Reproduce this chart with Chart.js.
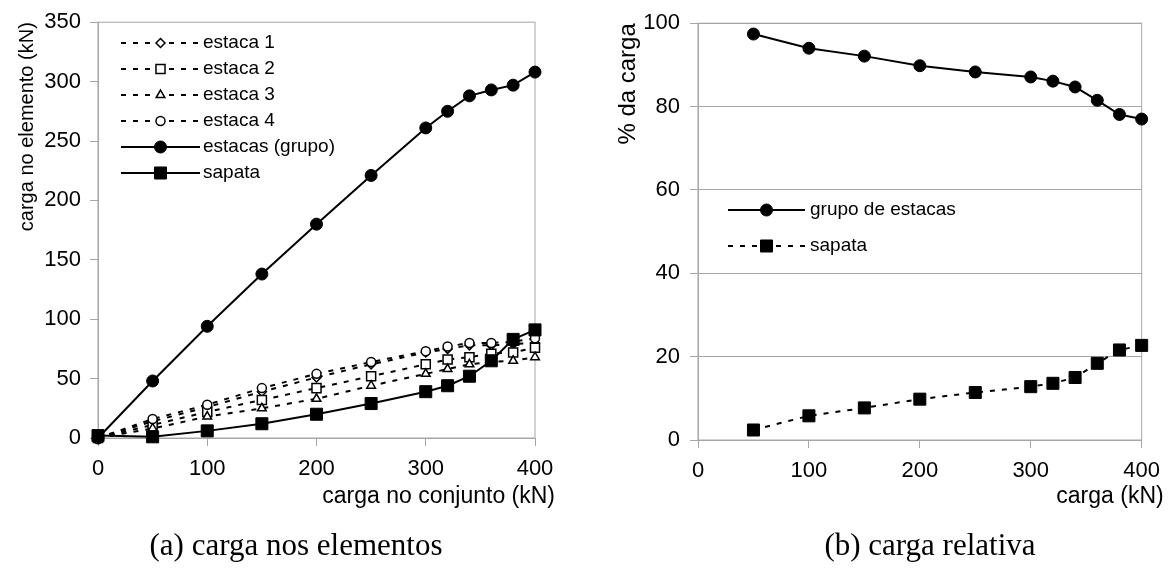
<!DOCTYPE html>
<html>
<head>
<meta charset="utf-8">
<script src="https://cdn.jsdelivr.net/npm/chart.js@4.4.1/dist/chart.umd.min.js"></script>
<style>
  body { margin: 0; background: #fff; }
  #wrap { position: relative; width: 1170px; height: 574px; }
  .box { position: absolute; top: 0; width: 585px; height: 574px; }
  .legenda { position: absolute; top: 527px; line-height: 36px; font-family: 'Liberation Serif', 'Times New Roman', serif; font-size: 31px; color: #000; white-space: nowrap; transform: translateX(-50%); }
</style>
</head>
<body>
<div id="wrap">
  <div class="box" style="left:0"><canvas id="cargaElementos"></canvas></div>
  <div class="box" style="left:585px"><canvas id="cargaRelativa"></canvas></div>
  <div class="legenda" style="left:296px">(a) carga nos elementos</div>
  <div class="legenda" style="left:930px">(b) carga relativa</div>
</div>
<script>
  /* dados (a) - carga nos elementos, kN */
  const carga = [0, 50, 100, 150, 200, 250, 300, 320, 340, 360, 380, 400];
  const estaca1 = [0, 14, 26, 39, 51, 62, 72, 75, 78, 78, 79, 80];
  const estaca2 = [0, 11, 22, 32, 42, 52, 62, 66, 68, 71, 72, 76];
  const estaca3 = [0, 8, 18, 25, 33, 44, 54, 58, 62, 64, 65, 68];
  const estaca4 = [0, 16, 28, 42, 54, 64, 73, 77, 80, 80, 81, 84];
  const estacasGrupo = [0, 48, 94, 138, 180, 221, 261, 275, 288, 293, 297, 308];
  const sapata = [2, 1, 6, 12, 20, 29, 39, 44, 52, 65, 83, 91];

  /* dados (b) - carga relativa, % */
  const cargaRel = [50, 100, 150, 200, 250, 300, 320, 340, 360, 380, 400];
  const grupoPct = [97.4, 94.0, 92.1, 89.8, 88.3, 87.1, 86.1, 84.7, 81.5, 78.1, 77.0];
  const sapataPct = [2.4, 5.8, 7.7, 9.8, 11.4, 12.8, 13.6, 15.0, 18.4, 21.6, 22.7];

  const ticksX = [0, 100, 200, 300, 400];

  const cinza = '#a6a6a6';
  const fonte = "'Liberation Sans', Arial, sans-serif";

  function pares(xs, ys) {
    return xs.map((x, i) => ({ x: x, y: ys[i] }));
  }

  function serie(label, xs, ys, estilo, raio, cheio, tracejado, ordem) {
    return {
      label: label,
      data: pares(xs, ys),
      borderColor: '#000',
      borderWidth: 2,
      borderDash: tracejado ? [5, 7] : [],
      pointStyle: estilo,
      pointRadius: raio,
      pointHoverRadius: raio,
      pointBackgroundColor: cheio ? '#000' : '#fff',
      pointBorderColor: '#000',
      pointBorderWidth: cheio ? 1 : 1.5,
      tension: 0,
      clip: false,
      order: ordem
    };
  }

  // borda cinza em volta da area do grafico
  const moldura = {
    id: 'moldura',
    beforeDatasetsDraw(chart) {
      const a = chart.chartArea;
      const ctx = chart.ctx;
      ctx.save();
      ctx.strokeStyle = cinza;
      ctx.lineWidth = 1;
      ctx.strokeRect(a.left, a.top, a.right - a.left, a.bottom - a.top);
      ctx.restore();
    }
  };

  // titulo do eixo x, um pouco alem da borda direita (como no original)
  const tituloX = {
    id: 'tituloX',
    afterDraw(chart, args, opts) {
      const ctx = chart.ctx;
      ctx.save();
      ctx.fillStyle = '#000';
      ctx.font = opts.tamanho + 'px ' + fonte;
      ctx.textAlign = 'right';
      ctx.textBaseline = 'middle';
      ctx.fillText(opts.texto, chart.chartArea.right + opts.dx, opts.y);
      ctx.restore();
    }
  };

  // legenda com linha + marcador, como no excel
  const legendaLinhas = {
    id: 'legendaLinhas',
    afterDraw(chart, args, opts) {
      const ctx = chart.ctx;
      ctx.save();
      chart.data.datasets.forEach((ds, i) => {
        const y = opts.y + i * opts.passo;
        const xm = opts.x + opts.comprimento / 2;
        ctx.strokeStyle = ds.borderColor;
        ctx.lineWidth = ds.borderWidth;
        ctx.setLineDash(ds.borderDash);
        ctx.beginPath();
        ctx.moveTo(opts.x, y);
        ctx.lineTo(opts.x + opts.comprimento, y);
        ctx.stroke();
        ctx.setLineDash([]);
        ctx.fillStyle = ds.pointBackgroundColor;
        ctx.strokeStyle = ds.pointBorderColor;
        ctx.lineWidth = ds.pointBorderWidth;
        Chart.helpers.drawPoint(ctx, {
          pointStyle: ds.pointStyle,
          radius: ds.pointRadius,
          borderWidth: ds.pointBorderWidth,
          rotation: 0
        }, xm, y);
        ctx.fillStyle = '#000';
        ctx.font = opts.tamanho + 'px ' + fonte;
        ctx.textBaseline = 'middle';
        ctx.textAlign = 'left';
        ctx.fillText(ds.label, opts.x + opts.comprimento + opts.folga, y);
      });
      ctx.restore();
    }
  };

  function eixoX() {
    return {
      type: 'linear',
      min: 0,
      max: 400,
      afterBuildTicks: (s) => { s.ticks = ticksX.map(v => ({ value: v })); },
      afterFit: (s) => { s.height = 80; },
      border: { color: cinza, width: 1 },
      grid: { drawOnChartArea: false, color: cinza, tickLength: 8 },
      ticks: { color: '#000', padding: 10, maxRotation: 0, font: { family: fonte, size: 22 } }
    };
  }

  /* Grafico (a) */

  const dataElementos = {
    datasets: [
      serie('estaca 1', carga, estaca1, 'rectRot', 4.5, false, true, 6),
      serie('estaca 2', carga, estaca2, 'rect', 6.4, false, true, 5),
      serie('estaca 3', carga, estaca3, 'triangle', 5, false, true, 4),
      serie('estaca 4', carga, estaca4, 'circle', 4.5, false, true, 3),
      serie('estacas (grupo)', carga, estacasGrupo, 'circle', 6, true, false, 2),
      serie('sapata', carga, sapata, 'rect', 8.5, true, false, 1)
    ]
  };

  const configElementos = {
    type: 'line',
    data: dataElementos,
    plugins: [moldura, legendaLinhas, tituloX],
    options: {
      responsive: true,
      maintainAspectRatio: false,
      animation: false,
      layout: { padding: { top: 18, right: 50, bottom: 56, left: 0 } },
      plugins: {
        legend: { display: false },
        tooltip: { enabled: false },
        legendaLinhas: { x: 121, y: 43, passo: 26, comprimento: 79, folga: 3, tamanho: 19 },
        tituloX: { texto: 'carga no conjunto (kN)', dx: 20, y: 497, tamanho: 23 }
      },
      scales: {
        x: eixoX(),
        y: {
          type: 'linear',
          min: 0,
          max: 350,
          ticks: { stepSize: 50, color: '#000', padding: 9, font: { family: fonte, size: 22 } },
          afterFit: (s) => { s.width = 98; },
          border: { color: cinza, width: 1 },
          grid: { drawOnChartArea: false, color: cinza, tickLength: 8 },
          title: {
            display: true, text: 'carga no elemento (kN)', align: 'end', color: '#000',
            font: { family: fonte, size: 20 }, padding: { top: 15, bottom: 0 }
          }
        }
      }
    }
  };

  const chartElementos = new Chart(
    document.getElementById('cargaElementos'),
    configElementos
  );

  /* Grafico (b) */

  const dataRelativa = {
    datasets: [
      serie('grupo de estacas', cargaRel, grupoPct, 'circle', 6, true, false, 2),
      serie('sapata', cargaRel, sapataPct, 'rect', 8.5, true, true, 1)
    ]
  };

  const configRelativa = {
    type: 'line',
    data: dataRelativa,
    plugins: [moldura, legendaLinhas, tituloX],
    options: {
      responsive: true,
      maintainAspectRatio: false,
      animation: false,
      layout: { padding: { top: 19, right: 28, bottom: 54, left: 0 } },
      plugins: {
        legend: { display: false },
        tooltip: { enabled: false },
        legendaLinhas: { x: 143, y: 210, passo: 36, comprimento: 77, folga: 5, tamanho: 19 },
        tituloX: { texto: 'carga (kN)', dx: 22, y: 497, tamanho: 23 }
      },
      scales: {
        x: eixoX(),
        y: {
          type: 'linear',
          min: 0,
          max: 100,
          ticks: { stepSize: 20, color: '#000', padding: 10, font: { family: fonte, size: 22 } },
          afterFit: (s) => { s.width = 113; },
          border: { color: cinza, width: 1 },
          grid: { color: cinza, tickLength: 8 },
          title: {
            display: true, text: '% da carga', align: 'end', color: '#000',
            font: { family: fonte, size: 24 }, padding: { top: 29, bottom: 0 }
          }
        }
      }
    }
  };

  const chartRelativa = new Chart(
    document.getElementById('cargaRelativa'),
    configRelativa
  );
</script>
</body>
</html>
